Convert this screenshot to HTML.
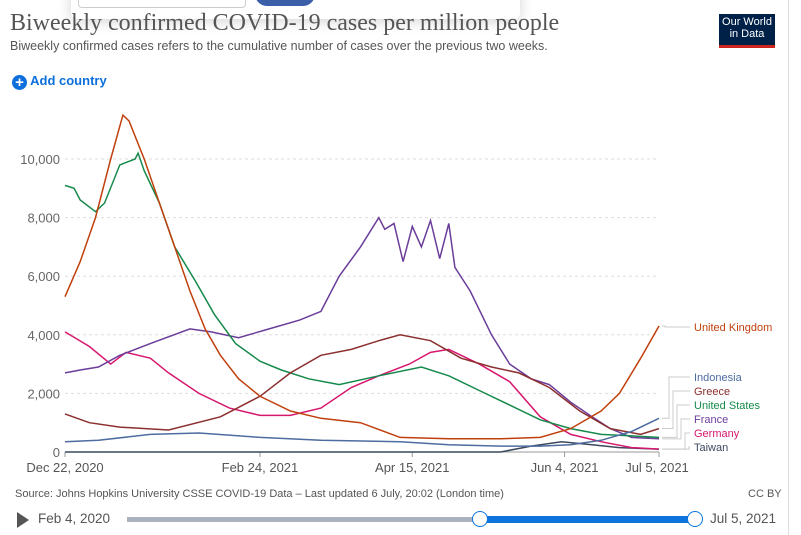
<!DOCTYPE html>
<html><head><meta charset="utf-8"><style>
body{margin:0;width:801px;height:535px;background:#fff;font-family:"Liberation Sans",sans-serif;overflow:hidden;position:relative}
.t{position:absolute;white-space:nowrap}
</style></head><body>
<div style="position:absolute;left:71px;top:-10px;width:449px;height:29px;background:#fff;border-radius:6px;box-shadow:0 2px 14px rgba(0,0,0,.18)">
 <div style="position:absolute;left:7px;top:0;width:166px;height:17px;border:1px solid #ccc;border-top:none;border-radius:0 0 4px 4px"></div>
 <div style="position:absolute;left:184px;top:0;width:60px;height:16px;background:#3b5ea8;border-radius:0 0 12px 12px"></div>
</div>
<div class="t" style="left:10px;top:10px;font-family:'Liberation Serif',serif;font-size:24px;color:#555">Biweekly confirmed COVID-19 cases per million people</div>
<div class="t" style="left:10px;top:39px;font-size:12.5px;color:#555">Biweekly confirmed cases refers to the cumulative number of cases over the previous two weeks.</div>
<div style="position:absolute;left:719px;top:14px;width:56px;height:34px;background:#002147;color:#fff;font-size:11px;text-align:center;line-height:12px;border-bottom:3px solid #ce261e;box-sizing:border-box;padding-top:2px">Our World<br>in Data</div>
<div class="t" style="left:12px;top:73px;font-size:13px;color:#0c6fdc;font-weight:bold"><span style="display:inline-block;width:15px;height:15px;border-radius:50%;background:#0c6fdc;color:#fff;text-align:center;line-height:15px;font-size:15px;vertical-align:-2px">+</span> Add country</div>
<svg id="ch" width="801" height="535" style="position:absolute;left:0;top:0"></svg>
<div class="t" style="left:15px;top:488px;font-size:11px;color:#555">Source: Johns Hopkins University CSSE COVID-19 Data – Last updated 6 July, 20:02 (London time)</div>
<div class="t" style="left:748px;top:488px;font-size:11px;color:#555">CC BY</div>
<div style="position:absolute;left:17px;top:512px;width:0;height:0;border-left:12px solid #555;border-top:8px solid transparent;border-bottom:8px solid transparent"></div>
<div class="t" style="left:38px;top:511px;font-size:13.5px;color:#555">Feb 4, 2020</div>
<div style="position:absolute;left:127px;top:517px;width:353px;height:5px;background:#aab3bd"></div>
<div style="position:absolute;left:480px;top:516px;width:214px;height:7px;background:#0c74dc"></div>
<div style="position:absolute;left:472px;top:511px;width:14px;height:14px;border-radius:50%;background:#fff;border:1.5px solid #0c74dc"></div>
<div style="position:absolute;left:687px;top:511px;width:14px;height:14px;border-radius:50%;background:#fff;border:1.5px solid #0c74dc"></div>
<div class="t" style="left:710px;top:511px;font-size:13.5px;color:#555">Jul 5, 2021</div>
<div style="position:absolute;left:788px;top:0;width:13px;height:535px;border-left:1px solid #ddd"></div>
<script>
const yTicks=[0,2000,4000,6000,8000,10000];
const xTickDays=[0,64,114,164,195];
const xTickLabels=["Dec 22, 2020","Feb 24, 2021","Apr 15, 2021","Jun 4, 2021","Jul 5, 2021"];
const ukDays=[0,5,10,15,19,21,26,31,36,41,46,51,57,64,74,84,97,110,126,143,156,166,176,182,189,195];
const ukVals=[5300,6500,8000,10000,11500,11300,10000,8500,7000,5500,4200,3300,2500,1900,1400,1150,1000,500,450,450,500,800,1400,2000,3200,4300];
const usDays=[0,3,5,10,13,18,23,24,26,31,36,43,49,56,64,71,80,90,103,117,126,136,146,156,166,176,186,195];
const usVals=[9100,9000,8600,8200,8500,9800,10000,10200,9600,8500,7000,5800,4700,3700,3100,2800,2500,2300,2600,2900,2600,2100,1600,1100,800,600,550,500];
const frDays=[0,5,11,18,28,41,48,57,67,77,84,90,97,103,105,108,111,114,117,120,123,126,128,133,140,146,153,159,166,173,179,186,195];
const frVals=[2700,2800,2900,3300,3700,4200,4100,3900,4200,4500,4800,6000,7000,8000,7600,7800,6500,7700,7000,7900,6600,7800,6300,5500,4000,3000,2500,2300,1700,1200,800,500,450];
const deDays=[0,8,15,20,28,34,44,54,64,74,84,94,103,113,120,126,136,146,156,166,176,186,195];
const deVals=[4100,3600,3000,3400,3200,2700,2000,1500,1250,1250,1500,2200,2600,3000,3400,3500,3000,2400,1200,600,350,150,100];
const grDays=[0,8,18,34,51,64,74,84,94,103,110,120,130,140,149,159,169,179,189,195];
const grVals=[1300,1000,850,750,1200,1900,2700,3300,3500,3800,4000,3800,3200,2900,2700,2200,1400,800,600,800];
const idDays=[0,11,28,44,64,84,110,126,143,156,166,176,186,195];
const idVals=[350,400,600,650,500,400,350,250,200,200,250,400,700,1150];
const twDays=[0,143,153,163,173,182,195];
const twVals=[0,0,200,350,250,150,100];
const series=[
 {name:"United Kingdom",d:ukDays,v:ukVals,c:"#c0400d",ly:327},
 {name:"Indonesia",d:idDays,v:idVals,c:"#4d6c9f",ly:377},
 {name:"Greece",d:grDays,v:grVals,c:"#8c2f2f",ly:391},
 {name:"United States",d:usDays,v:usVals,c:"#168a4b",ly:405},
 {name:"France",d:frDays,v:frVals,c:"#6b3d9a",ly:419},
 {name:"Germany",d:deDays,v:deVals,c:"#d6176e",ly:433},
 {name:"Taiwan",d:twDays,v:twVals,c:"#3c4a5e",ly:447}];
const X=d=>65+d*(594/195);
const Y=v=>452-v*0.0293;
const svg=document.getElementById('ch');const NS="http://www.w3.org/2000/svg";
function mk(t,a){const e=document.createElementNS(NS,t);for(const k in a)e.setAttribute(k,a[k]);svg.appendChild(e);return e;}
yTicks.forEach(v=>{
 const l=mk('line',{x1:65,x2:659,y1:Y(v),y2:Y(v),stroke:v?"#ddd":"#999","stroke-dasharray":v?"3,3":"none"});
 
 
 const t=mk('text',{x:60,y:Y(v)+5,"text-anchor":"end","font-size":13,fill:"#666","font-family":"Liberation Sans"});
 t.textContent=v.toLocaleString('en-US');
 
 
});
xTickDays.forEach((d,i)=>{
 const l=mk('line',{x1:X(d),x2:X(d),y1:452,y2:457,stroke:"#999"});
 
 
 const t=mk('text',{x:i==4?X(d)-2:X(d),y:472,"text-anchor":"middle","font-size":13,fill:"#555","font-family":"Liberation Sans"});
 t.textContent=xTickLabels[i];
 
 
});
series.slice().reverse().forEach(s=>{
 const p=mk('path',{d:s.d.map((d,i)=>(i?"L":"M")+X(d).toFixed(1)+","+Y(s.v[i]).toFixed(1)).join(""),fill:"none",stroke:s.c,"stroke-width":1.5});
 
 
});
series.forEach((s,i)=>{
 const ey=Y(s.v[s.v.length-1]);const bx=i==0?665:665+i*4;
 const c=mk('path',{d:`M${X(195)+3},${ey} L${bx},${ey} L${bx},${s.ly} L690,${s.ly}`,fill:"none",stroke:"#ccc","stroke-width":1});
 
 
 const t=mk('text',{x:694,y:s.ly+4,"font-size":11,fill:s.c,"font-family":"Liberation Sans"});
 t.textContent=s.name;
 
 
});
</script>
</body></html>
